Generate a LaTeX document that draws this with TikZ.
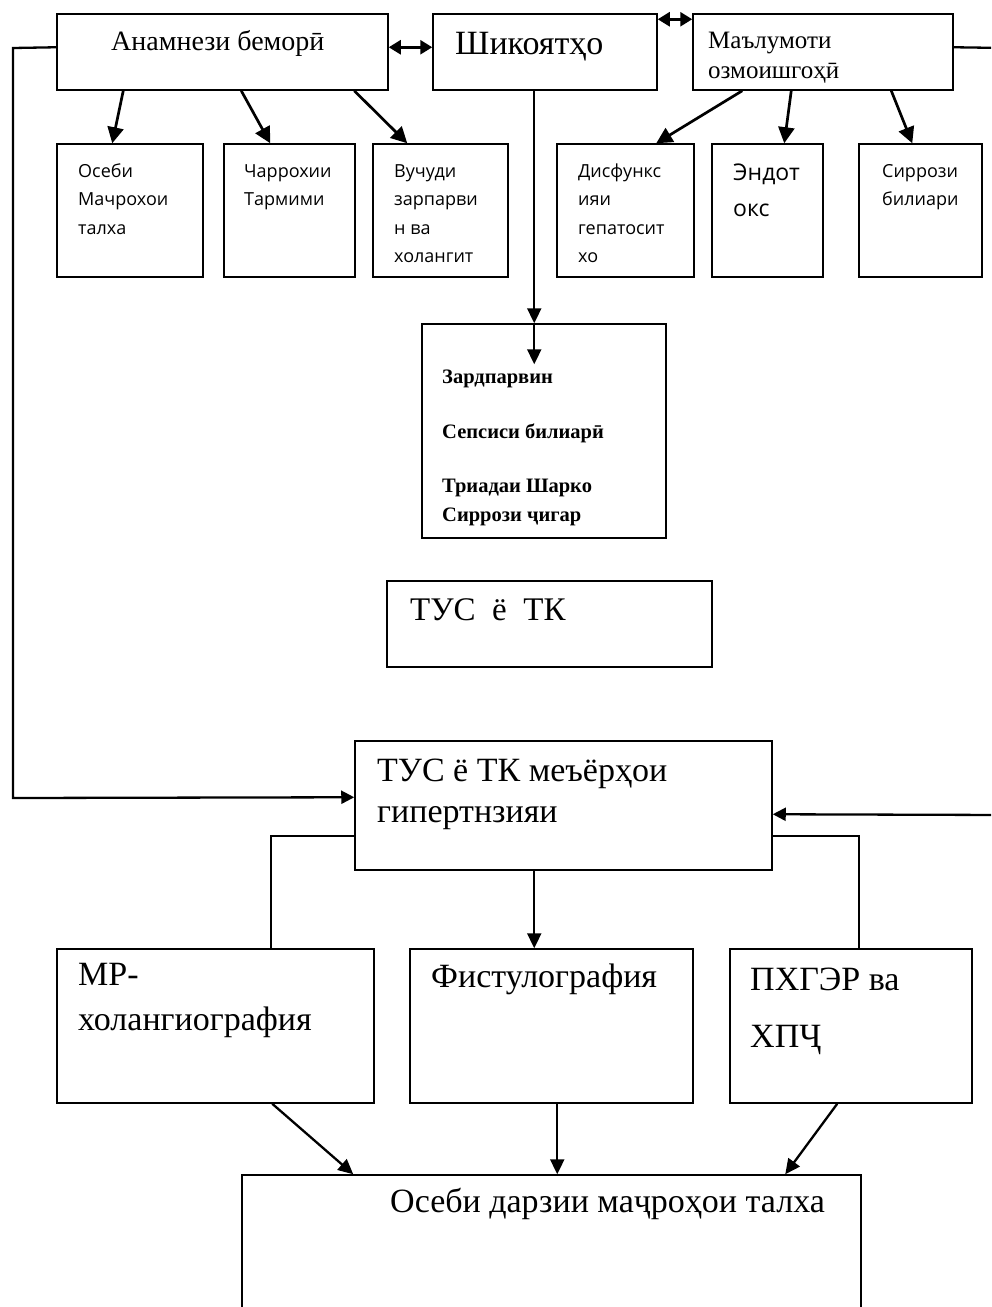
\documentclass[tikz,border=0pt]{standalone}
\usepackage{fontspec}
\setmainfont{Liberation Serif}
\newfontfamily\sansf{Open Sans}
\usetikzlibrary{arrows.meta,calc,fit}
\begin{document}
\begin{tikzpicture}[x=1pt,y=-1pt,
  box/.style={draw, line width=1.5pt, inner sep=0pt, fit={#1}},
  tx/.style={anchor=base west, inner sep=0pt},
  sm/.style={tx, font=\sansf\fontsize{18}{20}\selectfont},
  big/.style={tx, font=\fontsize{34}{36}\selectfont},
  arr/.style={line width=2.7pt, -{Triangle[length=16pt,width=16pt]}},
  arrb/.style={line width=2.3pt, -{Triangle[length=15pt,width=14pt]}},
  darr/.style={line width=2.7pt, {Triangle[length=12pt,width=14pt]}-{Triangle[length=12pt,width=14pt]}},
  conn/.style={line width=2.3pt, -{Triangle[length=13pt,width=13pt]}},
  plain/.style={line width=1.9pt}]
\clip (0,0) rectangle (991,1307);
\fill[white] (0,0) rectangle (991,1307);
% boxes
\node[box={(57,14) (388,90)}] (anam) {};
\node[box={(433,14) (657,90)}] (shik) {};
\node[box={(693,14) (953,90)}] (mal) {};
\node[box={(57,144) (203,277)}] (s1) {};
\node[box={(224,144) (355,277)}] (s2) {};
\node[box={(373,144) (508,277)}] (s3) {};
\node[box={(557,144) (694,277)}] (s4) {};
\node[box={(712,144) (823,277)}] (s5) {};
\node[box={(859,144) (982,277)}] (s6) {};
\node[box={(422,324) (666,538)}] (zard) {};
\node[box={(387,581) (712,667)}] (tusA) {};
\node[box={(355,741) (772,870)}] (tus) {};
\node[box={(57,949) (374,1103)}] (mr) {};
\node[box={(410,949) (693,1103)}] (fist) {};
\node[box={(730,949) (972,1103)}] (px) {};
\node[box={(242,1175) (861,1340)}] (bot) {};
% texts
\node[tx, font=\fontsize{28}{30}\selectfont] (anamT) at (111,50) {Анамнези беморӣ};
\node[tx, font=\fontsize{34}{36}\selectfont] (shikT) at (455,54) {Шикоятҳо};
\node[tx, font=\fontsize{25}{28}\selectfont] (malT1) at (708,48) {Маълумоти};
\node[tx, font=\fontsize{25}{28}\selectfont] (malT2) at (708,78) {озмоишгоҳӣ};
\foreach \t [count=\i] in {Осеби, Мачрохои, талха}
  \node[sm] (s1t\i) at (78,{177+28.5*(\i-1)}) {\t};
\foreach \t [count=\i] in {Чаррохии, Тармими}
  \node[sm] (s2t\i) at (244,{177+28.5*(\i-1)}) {\t};
\foreach \t [count=\i] in {Вучуди, зарпарви, н ва, холангит}
  \node[sm] (s3t\i) at (394,{177+28.5*(\i-1)}) {\t};
\foreach \t [count=\i] in {Дисфункс, ияи, гепатосит, хо}
  \node[sm] (s4t\i) at (578,{177+28.5*(\i-1)}) {\t};
\node[tx, font=\sansf\fontsize{23}{26}\selectfont] (s5t1) at (733,180) {Эндот};
\node[tx, font=\sansf\fontsize{23}{26}\selectfont] (s5t2) at (733,216) {окс};
\foreach \t [count=\i] in {Сиррози, билиари}
  \node[sm] (s6t\i) at (882,{177+28.5*(\i-1)}) {\t};
\node[tx, font=\bfseries\fontsize{20.5}{23}\selectfont] (z1) at (442,383) {Зардпарвин};
\node[tx, font=\bfseries\fontsize{20.5}{23}\selectfont] (z2) at (442,438) {Сепсиси билиарӣ};
\node[tx, font=\bfseries\fontsize{20.5}{23}\selectfont] (z3) at (442,492) {Триадаи Шарко};
\node[tx, font=\bfseries\fontsize{20.5}{23}\selectfont] (z4) at (442,521) {Сиррози ҷигар};
\node[tx, font=\fontsize{33}{36}\selectfont] (tusAT) at (410,620) {ТУС\ \ ё\ \ ТК};
\node[big] (tusT1) at (377,781) {ТУС ё ТК меъёрҳои};
\node[big] (tusT2) at (377,822) {гипертнзияи};
\node[big] (mrT1) at (78,985) {МР-};
\node[big] (mrT2) at (78,1030) {холангиография};
\node[big] (fistT) at (431,987) {Фистулография};
\node[big] (pxT1) at (750,990) {ПХГЭР ва};
\node[big] (pxT2) at (750,1047) {ХПҶ};
\node[big] (botT) at (390,1212) {Осеби дарзии маҷроҳои талха};
% connectors
\draw[darr] ($(anam.north east)+(0,34)$) -- ($(shik.north west)+(0,34)$);
\draw[darr] ($(shik.north east)+(0,6)$) -- ($(mal.north west)+(0,6)$);
\draw[arr] ($(anam.south west)+(67,0)$) -- ($(s1.north west)+(56,0)$);
\draw[arr] ($(anam.south west)+(185,0)$) -- ($(s2.north west)+(47,0)$);
\draw[arr] ($(anam.south west)+(298,0)$) -- ($(s3.north west)+(35,0)$);
\draw[arr] ($(mal.south west)+(50,0)$) -- ($(s4.north west)+(100,0)$);
\draw[arr] ($(mal.south west)+(99,0)$) -- ($(s5.north west)+(73,0)$);
\draw[arr] ($(mal.south west)+(199,0)$) -- ($(s6.north west)+(54,0)$);
\draw[arrb] ($(shik.south west)+(102,0)$) -- ($(zard.north west)+(113,0)$);
\draw[arrb] ($(zard.north west)+(113,0)$) -- ++(0,41);
\draw[conn] ($(anam.north west)+(0,34)$) -- (13,48) -- (13,798) -- ($(tus.north west)+(0,57)$);
\draw[conn] ($(mal.north east)+(0,34)$) -- (1005,48) -- (1005,815) -- ($(tus.north east)+(0,74)$);
\draw[plain] ($(tus.north west)+(0,96)$) -| ($(mr.north west)+(215,0)$);
\draw[plain] ($(tus.north east)+(0,96)$) -| ($(px.north west)+(130,0)$);
\draw[arrb] ($(tus.south west)+(180,0)$) -- ($(fist.north west)+(125,0)$);
\draw[arrb] ($(mr.south west)+(216,0)$) -- ($(bot.north west)+(112,0)$);
\draw[arrb] ($(fist.south west)+(148,0)$) -- ($(bot.north west)+(316,0)$);
\draw[arrb] ($(px.south west)+(108,0)$) -- ($(bot.north west)+(544,0)$);
\end{tikzpicture}
\end{document}
